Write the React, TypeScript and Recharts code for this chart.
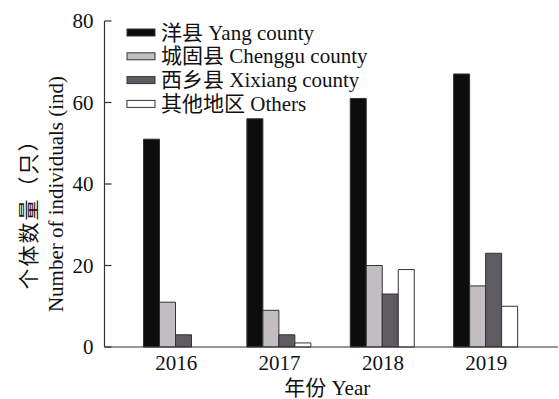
import React from "react";
import { Bar, BarChart, Legend, XAxis, YAxis } from "recharts";

const years = ["2016", "2017", "2018", "2019"];
const yangCounty = [51, 56, 61, 67];
const chengguCounty = [11, 9, 20, 15];
const xixiangCounty = [3, 3, 13, 23];
const others = [0, 1, 19, 10];
const yTicks = [0, 20, 40, 60, 80];

const series = [
  { key: "yang", name: "洋县 Yang county", fill: "#0d0d0d", values: yangCounty },
  { key: "chenggu", name: "城固县 Chenggu county", fill: "#c1bdc1", values: chengguCounty },
  { key: "xixiang", name: "西乡县 Xixiang county", fill: "#5e5c60", values: xixiangCounty },
  { key: "others", name: "其他地区 Others", fill: "#ffffff", values: others },
];

const data = years.map((year, i) => {
  const row: Record<string, string | number> = { year };
  series.forEach((s) => {
    row[s.key] = s.values[i];
  });
  return row;
});

const FONT = "'Liberation Serif', serif, 'Noto Sans CJK SC'";
const AXIS = "#333333";

// left axis: labels outside, short tick marks pointing into the plot
function YTick({ x, y, payload }: any) {
  return (
    <g>
      <line x1={x + 11} x2={x + 18} y1={y} y2={y} stroke={AXIS} strokeWidth={1.2} />
      <text x={x} y={y} textAnchor="end" dominantBaseline="central" fontSize={21} fill="#111" fontFamily={FONT}>
        {payload.value}
      </text>
    </g>
  );
}

function YTitle({ viewBox }: any) {
  const cy = viewBox.y + viewBox.height / 2;
  const zx = viewBox.x + 29;
  const ex = viewBox.x + 56;
  return (
    <g fill="#111" fontFamily={FONT}>
      <text
        x={zx}
        y={cy + 25}
        transform={`rotate(-90, ${zx}, ${cy + 25})`}
        textAnchor="middle"
        dominantBaseline="central"
        fontSize={21}
        letterSpacing={2}
      >
        个体数量（只）
      </text>
      <text
        x={ex}
        y={cy + 10}
        transform={`rotate(-90, ${ex}, ${cy + 10})`}
        textAnchor="middle"
        dominantBaseline="central"
        fontSize={21}
      >
        Number of individuals (ind)
      </text>
    </g>
  );
}

function XTitle({ viewBox }: any) {
  return (
    <text
      x={viewBox.x + viewBox.width / 2 - 4}
      y={395}
      textAnchor="middle"
      fontSize={21}
      fill="#111"
      fontFamily={FONT}
    >
      年份 Year
    </text>
  );
}

function LegendBox() {
  return (
    <svg width={440} height={120} style={{ display: "block" }}>
      {series.map((s, i) => {
        const cy = 32.5 + i * 23.8;
        return (
          <g key={s.key}>
            <rect x={127} y={cy - 3.5} width={28} height={7} fill={s.fill} stroke={AXIS} strokeWidth={1} />
            <text x={161} y={cy + 7} fontSize={21} fill="#111" fontFamily={FONT}>
              {s.name}
            </text>
          </g>
        );
      })}
    </svg>
  );
}

export default function App() {
  return (
    <div style={{ position: "absolute", left: 0, top: 0, background: "#fff" }}>
      <BarChart
        width={559}
        height={399}
        data={data}
        margin={{ top: 21, right: 1, left: 0, bottom: 22 }}
        barGap={0}
        barCategoryGap={19}
        style={{ fontFamily: FONT }}
      >
        <XAxis
          dataKey="year"
          height={30}
          padding={{ left: 20, right: 20 }}
          tickLine={false}
          tickSize={0}
          tickMargin={8}
          axisLine={{ stroke: AXIS, strokeWidth: 1.2 }}
          tick={{ fontSize: 21, fill: "#111", fontFamily: FONT }}
          label={{ content: XTitle }}
        />
        <YAxis
          width={104.5}
          domain={[0, 80]}
          ticks={yTicks}
          tickLine={false}
          tickSize={0}
          tickMargin={11}
          axisLine={{ stroke: AXIS, strokeWidth: 1.2 }}
          tick={YTick}
          label={{ content: YTitle }}
        />
        <Legend
          layout="vertical"
          align="center"
          verticalAlign="middle"
          wrapperStyle={{ left: 0, top: 0, width: 440, height: 120 }}
          content={() => <LegendBox />}
        />
        {series.map((s) => (
          <Bar
            key={s.key}
            dataKey={s.key}
            name={s.name}
            fill={s.fill}
            stroke={AXIS}
            strokeWidth={1}
            isAnimationActive={false}
          />
        ))}
      </BarChart>
    </div>
  );
}
